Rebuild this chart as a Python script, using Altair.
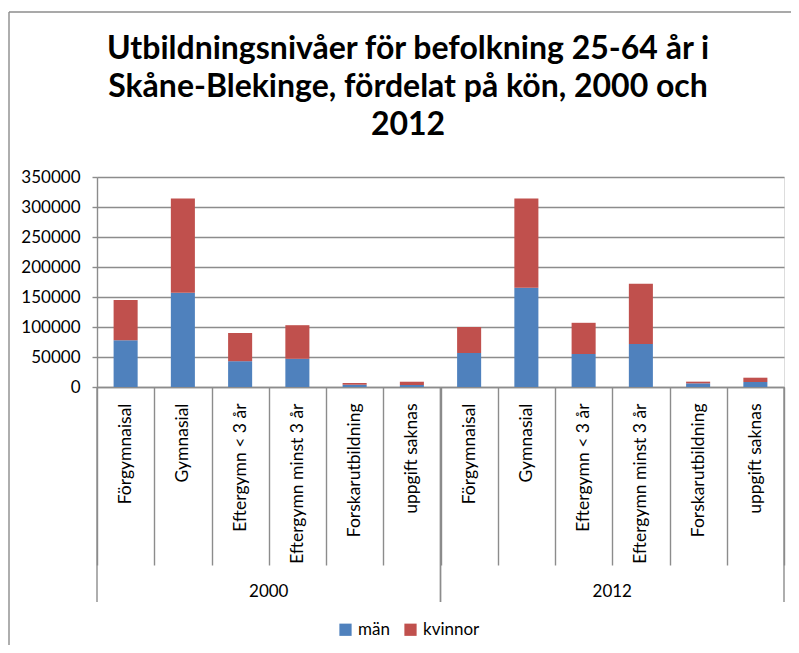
import altair as alt
import pandas as pd

years = ["2000", "2012"]
categories = ["Förgymnaisal", "Gymnasial", "Eftergymn < 3 år", "Eftergymn minst 3 år",
              "Forskarutbildning", "uppgift saknas"]
series = ["män", "kvinnor"]
man_2000 = [78000, 157000, 43000, 47000, 3800, 3300]
kvinnor_2000 = [67000, 157000, 47000, 56000, 2900, 5500]
man_2012 = [56700, 165500, 55000, 71600, 6100, 8300]
kvinnor_2012 = [43300, 148800, 52000, 100400, 2800, 7200]
y_ticks = [0, 50000, 100000, 150000, 200000, 250000, 300000, 350000]
title_lines = ["Utbildningsnivåer för befolkning 25-64 år i",
               "Skåne-Blekinge, fördelat på kön, 2000 och",
               "2012"]

values = {("2000", "män"): man_2000, ("2000", "kvinnor"): kvinnor_2000,
          ("2012", "män"): man_2012, ("2012", "kvinnor"): kvinnor_2012}
rows = []
for y in years:
    for s_i, s in enumerate(series):
        for c, v in zip(categories, values[(y, s)]):
            rows.append({"key": f"{y}|{c}", "year": y, "cat": c, "kon": s, "ord": s_i, "val": v})
df = pd.DataFrame(rows)
keys = [f"{y}|{c}" for y in years for c in categories]

W, H = 687, 210
FONT = "Lato"
GRAY = "#8c8c8c"

xscale = alt.Scale(domain=keys, paddingInner=0, paddingOuter=0)

bars = alt.Chart(df).mark_bar(width=alt.RelativeBandSize(0.42)).encode(
    x=alt.X("key:N", sort=keys, scale=xscale,
            axis=alt.Axis(title=None, labelExpr="split(datum.label, '|')[1]",
                          labelAngle=270, labelAlign="right", labelBaseline="middle",
                          tickBand="extent", tickSize=178, tickColor=GRAY, tickWidth=1.4,
                          domainColor=GRAY, domainWidth=1.4, labelPadding=-162,
                          labelFont=FONT, labelFontSize=17.5, labelColor="#000")),
    y=alt.Y("val:Q", stack="zero",
            scale=alt.Scale(domain=[0, 350000], nice=False),
            axis=alt.Axis(title=None, values=y_ticks, format="d", grid=True,
                          gridColor=GRAY, gridWidth=1.4, domainColor=GRAY, domainWidth=1.4,
                          tickColor=GRAY, tickWidth=1.4, tickSize=5, labelPadding=12,
                          labelFont=FONT, labelFontSize=17, labelColor="#000")),
    color=alt.Color("kon:N", scale=alt.Scale(domain=series, range=["#4F81BD", "#C0504D"]),
                    legend=alt.Legend(title=None, orient="none", direction="horizontal",
                                      legendX=240, legendY=444, symbolType="square",
                                      symbolSize=150, symbolStrokeWidth=0,
                                      labelFont=FONT, labelFontSize=17, labelColor="#000",
                                      columnPadding=12, labelOffset=4)),
    order=alt.Order("ord:Q", sort="ascending"),
)

group_df = pd.DataFrame({"year": years,
                         "first": [f"{y}|{categories[0]}" for y in years],
                         "mid": [f"{y}|{categories[2]}" for y in years],
                         "last": [f"{y}|{categories[-1]}" for y in years]})

group_lines_start = alt.Chart(group_df).mark_rule(color=GRAY, strokeWidth=1.4).encode(
    x=alt.X("first:N", sort=keys, scale=xscale, bandPosition=0),
    y=alt.value(H), y2=alt.value(H + 215))
group_lines_end = alt.Chart(group_df).mark_rule(color=GRAY, strokeWidth=1.4).encode(
    x=alt.X("last:N", sort=keys, scale=xscale, bandPosition=1),
    y=alt.value(H), y2=alt.value(H + 215))
year_text = alt.Chart(group_df).mark_text(font=FONT, fontSize=17, color="#000",
                                          baseline="middle").encode(
    x=alt.X("mid:N", sort=keys, scale=xscale, bandPosition=1),
    y=alt.value(H + 205), text="year:N")

one = alt.Data(values=[{"t": "\n".join(title_lines)}])
title = alt.Chart(one).mark_text(font=FONT, fontSize=32, fontWeight="bold", color="#000",
                                 align="center", baseline="alphabetic", lineBreak="\n",
                                 lineHeight=38).encode(
    x=alt.value(311), y=alt.value(-118), text="t:N")

frame = alt.Chart(one).mark_rule(color=GRAY, strokeWidth=1.4).encode(
    x=alt.value(-88), y=alt.value(-165), y2=alt.value(H + 300))
frame_top = alt.Chart(one).mark_rule(color=GRAY, strokeWidth=1.4).encode(
    x=alt.value(-88), x2=alt.value(W + 40), y=alt.value(-165))

chart = alt.layer(bars, group_lines_start, group_lines_end, year_text, title,
                  frame, frame_top).properties(
    width=W, height=H,
    autosize=alt.AutoSizeParams(type="none"),
    padding={"left": 89, "top": 169, "right": 7, "bottom": 258},
).configure_view(stroke=None).configure(background="white")

chart.save("out.html", embed_options={"renderer": "svg", "actions": False})
